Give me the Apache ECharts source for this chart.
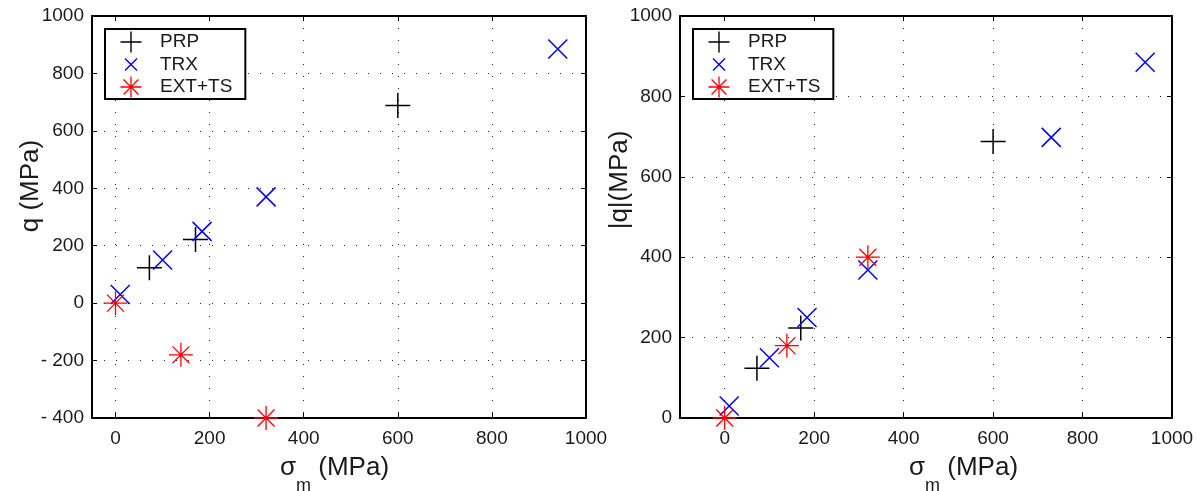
<!DOCTYPE html>
<html><head><meta charset="utf-8">
<script src="https://cdn.jsdelivr.net/npm/echarts@6/dist/echarts.min.js"></script>
<style>html,body{margin:0;padding:0;background:#fff}#c{width:1202px;height:491px}</style>
</head><body><div id="c"></div><script>
// ---------- data ----------
const seriesNames = ['PRP', 'TRX', 'EXT+TS'];

// left panel: q vs sigma_m
const prpSigmaL = [72, 170, 600];
const prpQL     = [123, 222, 688];
const trxSigmaL = [10, 100, 184, 320, 940];
const trxQL     = [30, 150, 250, 370, 885];
const extSigmaL = [0, 139, 320];
const extQL     = [0, -180, -400];

// right panel: |q| vs sigma_m
const prpSigmaR = [72, 170, 600];
const prpQR     = [124, 224, 688];
const trxSigmaR = [10, 100, 184, 320, 730, 940];
const trxQR     = [30, 150, 250, 368, 698, 885];
const extSigmaR = [0, 139, 320];
const extQR     = [0, 180, 400];

const xTickStep = 200;
const yLabelLeft = 'q (MPa)';
const yLabelRight = '|q|(MPa)';

// ---------- helpers ----------
const FONT = '"Liberation Sans", Arial, sans-serif';
const TXT = '#1a1a1a';
const zip = (a, b) => a.map((v, i) => [v, b[i]]);

function seg(p, q, h) {
  const dx = q[0] - p[0], dy = q[1] - p[1], L = Math.hypot(dx, dy);
  const nx = -dy / L * h, ny = dx / L * h;
  const f = v => v.toFixed(3);
  return 'M' + f(p[0] + nx) + ',' + f(p[1] + ny) + 'L' + f(q[0] + nx) + ',' + f(q[1] + ny) +
         'L' + f(q[0] - nx) + ',' + f(q[1] - ny) + 'L' + f(p[0] - nx) + ',' + f(p[1] - ny) + 'Z';
}
function corners(S) {
  return 'M0,0L0.01,0L0,0.01ZM' + S + ',' + S + 'L' + (S - 0.01) + ',' + S + 'L' + S + ',' + (S - 0.01) + 'Z';
}
function plusPath(S, r, h) {
  const c = S / 2;
  return 'path://' + corners(S) + seg([c - r, c], [c + r, c], h) + seg([c, c - r], [c, c + r], h);
}
function crossPath(S, r, h) {
  const c = S / 2;
  return 'path://' + corners(S) + seg([c - r, c - r], [c + r, c + r], h) + seg([c - r, c + r], [c + r, c - r], h);
}
function starPath(S, r, h, dot) {
  const c = S / 2, d = r * Math.SQRT1_2;
  return 'path://' + corners(S) + seg([c - r, c], [c + r, c], h) + seg([c, c - r], [c, c + r], h) +
    seg([c - d, c - d], [c + d, c + d], h) + seg([c - d, c + d], [c + d, c - d], h) +
    seg([c - dot, c], [c + dot, c], dot);
}

const SYM = 26;
const plotSymbols = [plusPath(SYM, 12.5, 0.75), crossPath(SYM, 9.5, 0.75), starPath(SYM, 12, 0.65, 1.6)];
const LEG = 22;
const legendSymbols = [plusPath(LEG, 10.5, 0.7), crossPath(LEG, 6, 0.7), starPath(LEG, 10.5, 0.65, 1.5)];
const colors = ['#000000', '#0000ff', '#ff0000'];

function xFmt(v) { return (Math.round(v) % xTickStep === 0) ? String(v) : ''; }
function yFmt(v) { return v < 0 ? '- ' + Math.abs(v) : String(v); }

const gridLine = { show: true, lineStyle: { color: '#222', width: 1, type: [1, 11] } };
const tickIn = { show: true, inside: true, length: 5, lineStyle: { color: '#000', width: 1 } };
const axLine = { show: true, onZero: false, lineStyle: { color: '#000', width: 2 } };
const lbl = { color: TXT, fontSize: 19, fontFamily: FONT };

function mainX(grid, min, max) {
  return { type: 'value', gridIndex: grid, position: 'bottom', min: min, max: max, splitNumber: 5,
    axisLine: axLine, axisTick: tickIn, splitLine: gridLine,
    axisLabel: Object.assign({ margin: 11, formatter: xFmt, showMinLabel: true }, lbl) };
}
function mirrorX(grid, min, max) {
  return { type: 'value', gridIndex: grid, position: 'top', min: min, max: max, splitNumber: 5,
    axisLine: axLine, axisTick: tickIn, splitLine: { show: false }, axisLabel: { show: false } };
}
function mainY(grid, min, max) {
  return { type: 'value', gridIndex: grid, position: 'left', min: min, max: max, interval: 200,
    axisLine: axLine, axisTick: tickIn, splitLine: gridLine,
    axisLabel: Object.assign({ margin: 8, formatter: yFmt }, lbl) };
}
function mirrorY(grid, min, max) {
  return { type: 'value', gridIndex: grid, position: 'right', min: min, max: max, interval: 200,
    axisLine: axLine, axisTick: tickIn, splitLine: { show: false }, axisLabel: { show: false } };
}

function scatter(i, xi, yi, data) {
  return { type: 'scatter', name: seriesNames[i], xAxisIndex: xi, yAxisIndex: yi, data: data,
    symbol: plotSymbols[i], symbolSize: SYM, clip: false, silent: true,
    itemStyle: { color: colors[i], opacity: 1 }, emphasis: { disabled: true }, z: 2 + i };
}

const legendData = seriesNames.map((n, i) => ({ name: n, icon: legendSymbols[i] }));
function legend(left) {
  return { left: left, top: 29, orient: 'vertical', data: legendData, selectedMode: false,
    backgroundColor: '#fff', borderColor: '#000', borderWidth: 2, borderRadius: 0,
    padding: [2, 13, 1, 15], itemGap: 0.5, itemWidth: LEG, itemHeight: LEG,
    textStyle: { color: TXT, fontSize: 19, fontFamily: FONT, padding: [0, 0, 0, 13] } };
}

const sigmaRich = {
  a: { fontSize: 26, lineHeight: 26, fontFamily: FONT, fill: TXT, verticalAlign: 'top' },
  b: { fontSize: 18, lineHeight: 18, fontFamily: FONT, fill: TXT, verticalAlign: 'top', padding: [22, 0, 0, 0] }
};
function sigmaLabel(x) {
  return { type: 'text', x: x, y: 455, silent: true,
    style: { text: '{a|σ}{b|m}{a| (MPa)}', rich: sigmaRich, align: 'left', verticalAlign: 'top' } };
}
function yName(x, y, t) {
  return { type: 'text', x: x, y: y, rotation: Math.PI / 2, silent: true,
    style: { text: t, fontSize: 26, fontFamily: FONT, fill: TXT, align: 'center', verticalAlign: 'middle' } };
}

const option = {
  animation: false,
  backgroundColor: '#ffffff',
  grid: [
    { left: 92, top: 16, width: 494, height: 402 },
    { left: 680, top: 16, width: 492, height: 402 }
  ],
  xAxis: [mainX(0, -50, 1000), mirrorX(0, -50, 1000), mainX(1, -100, 1000), mirrorX(1, -100, 1000)],
  yAxis: [mainY(0, -400, 1000), mirrorY(0, -400, 1000), mainY(1, 0, 1000), mirrorY(1, 0, 1000)],
  legend: [legend(105), legend(693)],
  series: [
    scatter(0, 0, 0, zip(prpSigmaL, prpQL)),
    scatter(1, 0, 0, zip(trxSigmaL, trxQL)),
    scatter(2, 0, 0, zip(extSigmaL, extQL)),
    scatter(0, 2, 2, zip(prpSigmaR, prpQR)),
    scatter(1, 2, 2, zip(trxSigmaR, trxQR)),
    scatter(2, 2, 2, zip(extSigmaR, extQR))
  ],
  graphic: [
    yName(31, 186, yLabelLeft),
    yName(620, 180, yLabelRight),
    sigmaLabel(280),
    sigmaLabel(909)
  ]
};
echarts.init(document.getElementById('c'), null, { renderer: 'canvas' }).setOption(option);
</script></body></html>
